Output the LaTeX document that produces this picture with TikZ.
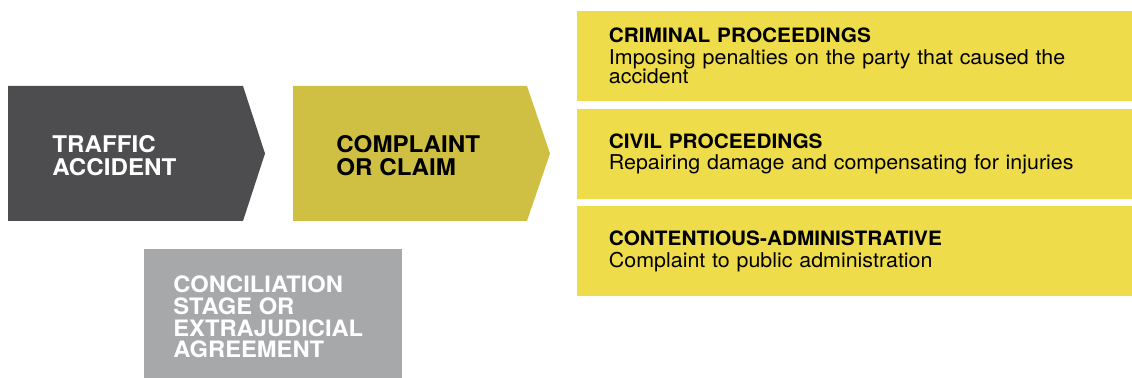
\documentclass[tikz,border=0pt]{standalone}
\usepackage{fontspec}
\setmainfont[FakeStretch=1.05]{TeX Gyre Heros}
\usetikzlibrary{positioning}
\definecolor{accidentgray}{HTML}{4D4D4F}
\definecolor{claimolive}{HTML}{CFBF42}
\definecolor{procyellow}{HTML}{EEDC4A}
\definecolor{agreegray}{HTML}{A7A8AA}
\newcommand{\proctitle}[1]{{\bfseries\fontsize{9.9}{9.8}\selectfont #1}\\[1pt]}

\begin{document}
\begin{tikzpicture}[x=0.5pt, y=-0.5pt,
	stagetext/.style={anchor=west, align=left, inner sep=0pt, font=\bfseries\fontsize{11.5}{11.5}\selectfont},
	procbox/.style={fill=procyellow, anchor=north west, minimum width=277.5pt, minimum height=45pt,
		text width=246pt, align=left, inner xsep=15.5pt, inner ysep=0pt, font=\fontsize{10.2}{9.8}\selectfont}]
			%%%%% START %%%%%
			\useasboundingbox (0, 0) rectangle (1132, 378);
			
			\fill[accidentgray] (8, 86) -- (243, 86) -- (265, 153.5) -- (243, 221) -- (8, 221) -- cycle;
			\node[stagetext, text=white] (accident) at (52, 155.5) {TRAFFIC\\ACCIDENT};
			
			\fill[claimolive] (293, 86) -- (527, 86) -- (550, 153.5) -- (527, 221) -- (293, 221) -- cycle;
			\node[stagetext, text=black] (claim) at (336, 155.5) {COMPLAINT\\OR CLAIM};
			
			\fill[agreegray] (144, 249) rectangle (402, 378);
			\node[stagetext, text=white, font=\bfseries\fontsize{11.3}{10.9}\selectfont] (agreement) at (173, 317)
				{CONCILIATION\\STAGE OR\\EXTRAJUDICIAL\\AGREEMENT};
			
			\node[procbox] (criminal) at (577, 10.5)
				{\proctitle{CRIMINAL PROCEEDINGS}Imposing penalties on the party that caused the\\accident};
			\node[procbox, below=3.5pt of criminal] (civil)
				{\proctitle{CIVIL PROCEEDINGS}Repairing damage and compensating for injuries};
			\node[procbox, below=3.5pt of civil] (contentious)
				{\proctitle{CONTENTIOUS-ADMINISTRATIVE}Complaint to public administration};
			
			%%%%% END %%%%%
\end{tikzpicture}
\end{document}
